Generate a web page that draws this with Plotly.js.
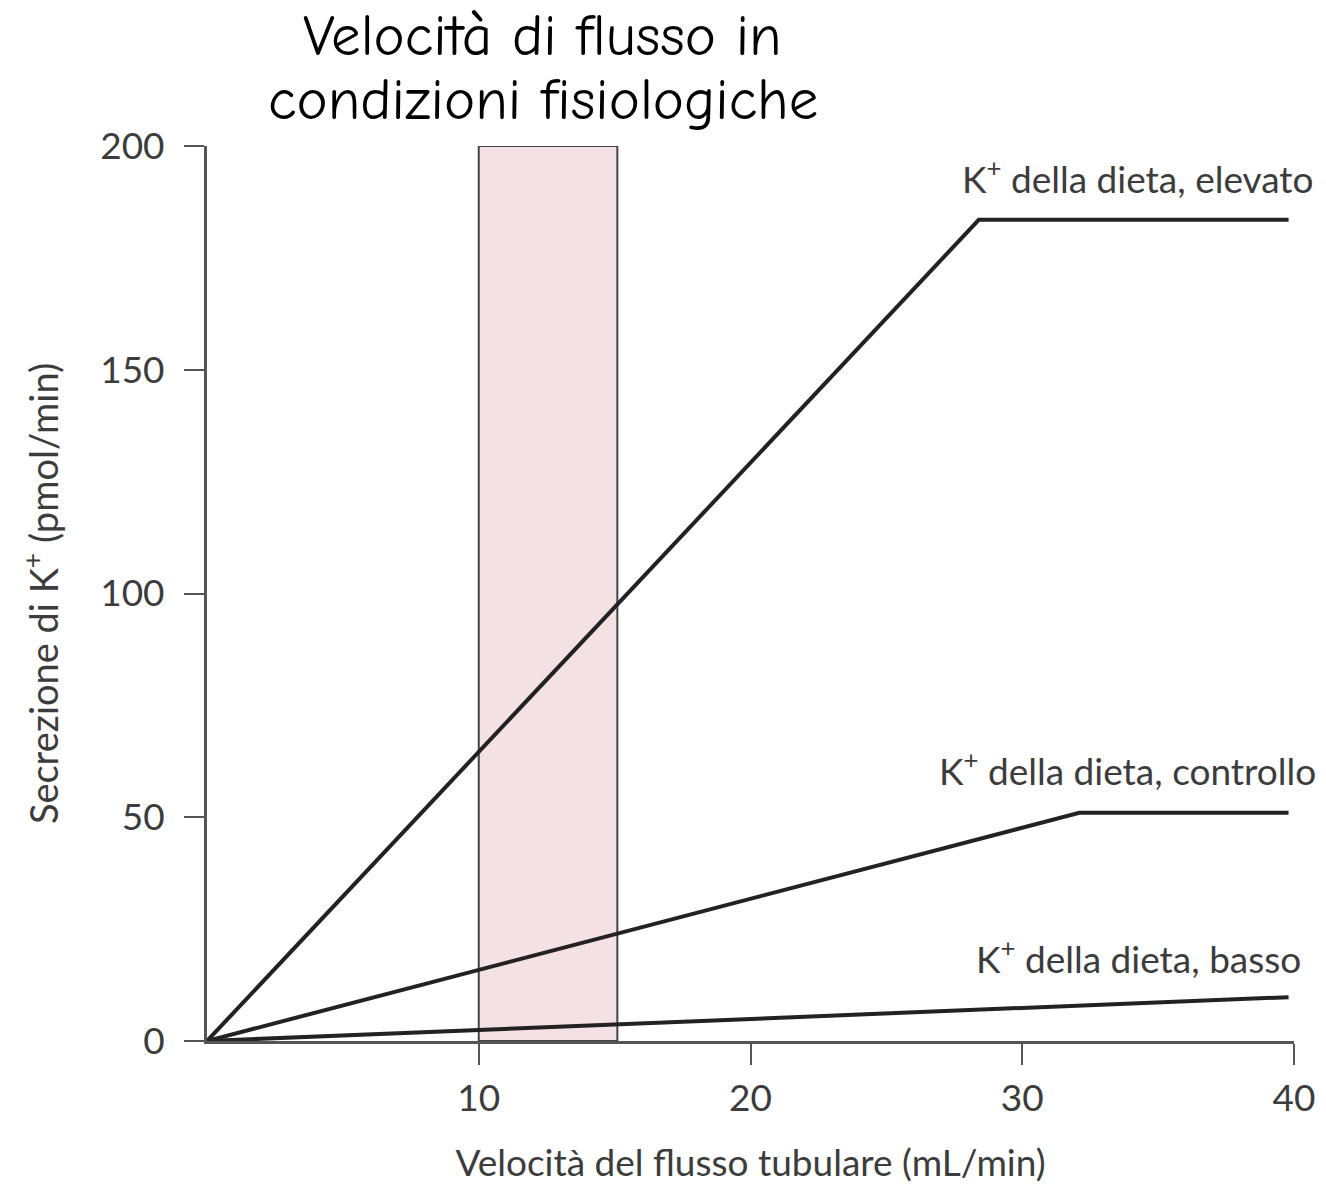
<!DOCTYPE html>
<html>
<head>
<meta charset="utf-8">
<script src="https://cdn.plot.ly/plotly-3.0.1.min.js"></script>
<style>html,body{margin:0;padding:0;background:#fff;}#chart{width:1326px;height:1192px;}</style>
</head>
<body>
<div id="chart"></div>
<script>
// Data
const flowHigh = [0, 28.4, 39.8];
const secHigh  = [0, 183.5, 183.5];
const flowCtrl = [0, 32.1, 39.8];
const secCtrl  = [0, 51, 51];
const flowLow  = [0, 39.8];
const secLow   = [0, 9.8];

const physRange = [10, 15.1];   // physiological flow band (x)
const physSpan  = [0, 200];     // band height (y)

const xTicks = [10, 20, 30, 40];
const yTicks = [0, 50, 100, 150, 200];

const seriesLabels = [
  'K<sup>+</sup> della dieta, elevato',
  'K<sup>+</sup> della dieta, controllo',
  'K<sup>+</sup> della dieta, basso'
];
const titleLines = ['Velocità di flusso in', 'condizioni fisiologiche'];
const xTitle = 'Velocità del flusso tubulare (mL/min)';
const yTitle = 'Secrezione di K<sup>+</sup> (pmol/min)';

// placement of the labels (paper coords)
const labelPos = [
  {x: 1.0202, y: 0.966},
  {x: 1.0221, y: 0.305},
  {x: 1.0083, y: 0.095}
];
const titlePos = [{x: 0.3087, y: 1.1225}, {x: 0.3087, y: 1.0515}];

const lineStyle = {color: '#222222', width: 4};
const traces = [
  {x: flowHigh, y: secHigh, mode: 'lines', line: lineStyle, hoverinfo: 'skip'},
  {x: flowCtrl, y: secCtrl, mode: 'lines', line: lineStyle, hoverinfo: 'skip'},
  {x: flowLow,  y: secLow,  mode: 'lines', line: lineStyle, hoverinfo: 'skip'}
];

const fam = 'Lato, "Open Sans", sans-serif';
const grey = '#3c3c3c';

const annotations = seriesLabels.map((t, i) => ({
  text: t, x: labelPos[i].x, y: labelPos[i].y, xref: 'paper', yref: 'paper',
  xanchor: 'right', yanchor: 'middle', showarrow: false,
  font: {family: fam, size: 37, color: grey}
})).concat(titleLines.map((t, i) => ({
  text: t, x: titlePos[i].x, y: titlePos[i].y, xref: 'paper', yref: 'paper',
  xanchor: 'center', yanchor: 'middle', showarrow: false,
  font: {family: '"Comic Sans MS", "Comic Neue", "DejaVu Sans", sans-serif', size: 59, color: '#000000'}
})));

const layout = {
  width: 1326, height: 1192,
  margin: {l: 207, r: 32, t: 146, b: 151},
  paper_bgcolor: '#ffffff', plot_bgcolor: '#ffffff',
  showlegend: false,
  xaxis: {
    range: [0, 40], tickvals: xTicks, ticktext: xTicks.map(String),
    showgrid: false, zeroline: false,
    showline: true, linecolor: '#555555', linewidth: 3,
    ticks: 'outside', ticklen: 21, tickwidth: 2, tickcolor: '#555555',
    tickfont: {family: fam, size: 37, color: grey}, ticklabelstandoff: 2,
    title: {text: xTitle, font: {family: fam, size: 37, color: grey}, standoff: 32},
    fixedrange: true
  },
  yaxis: {
    range: [0, 200], tickvals: yTicks, ticktext: yTicks.map(String),
    showgrid: false, zeroline: false,
    showline: true, linecolor: '#555555', linewidth: 3,
    ticks: 'outside', ticklen: 20, tickwidth: 2, tickcolor: '#555555',
    tickfont: {family: fam, size: 37, color: grey}, ticklabelstandoff: 12,
    title: {text: yTitle, font: {family: fam, size: 38, color: grey}, standoff: 30},
    fixedrange: true
  },
  shapes: [{
    type: 'rect', xref: 'x', yref: 'y', layer: 'below',
    x0: physRange[0], x1: physRange[1], y0: physSpan[0], y1: physSpan[1],
    fillcolor: '#f4e1e4', line: {color: '#444444', width: 2}
  }],
  annotations: annotations
};

Plotly.newPlot('chart', traces, layout, {displayModeBar: false, staticPlot: true});
</script>
</body>
</html>
